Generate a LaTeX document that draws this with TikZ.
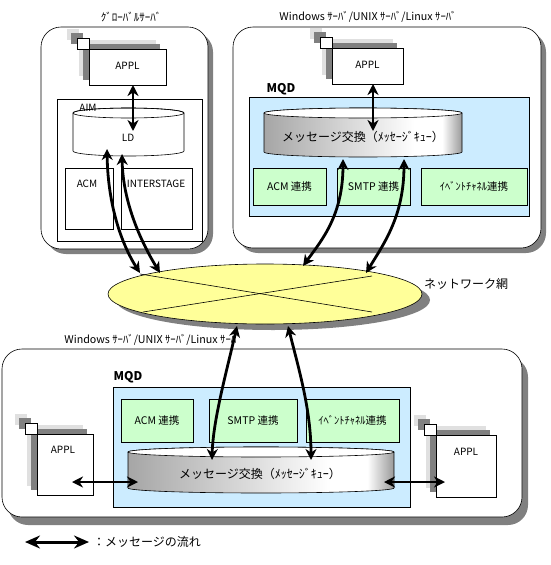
\documentclass[tikz,border=0pt]{standalone}
\usepackage{fontspec}
\setmainfont{Noto Sans CJK JP}
\usetikzlibrary{arrows.meta}
\definecolor{shadowgray}{HTML}{808080}
\definecolor{iconlight}{HTML}{E0E0E0}
\definecolor{icondark}{HTML}{808080}
\definecolor{mqdblue}{HTML}{CCECFF}
\definecolor{linkgreen}{HTML}{CCFFCC}
\definecolor{netyellow}{HTML}{FFFF99}
\pgfdeclarehorizontalshading{cylshade}{100bp}{color(0bp)=(black!35); color(25bp)=(black!35); color(63bp)=(white); color(70bp)=(white); color(75bp)=(black!40); color(100bp)=(black!40)}
\newcommand\appicon[5]{%
  \fill[iconlight] (#2-10,#3-9) rectangle (#4-10,#5-9);
  \fill[iconlight] (#2-22,#3-20) rectangle (#2-10,#3-9);
  \fill[icondark] (#2-6,#3-5) rectangle (#4-6,#5-5);
  \fill[icondark] (#2-18,#3-16) rectangle (#2-6,#3-5);
  \draw[thinline, fill=white] (#2,#3) rectangle (#4,#5);
  \draw[thinline, fill=white] (#2-12,#3-11) rectangle (#2,#3);
}
\newcommand\cylpath[5]{% x1 y1(top) x2 y2(bottom) ry
  (#1,#2+#5) -- (#1,#4-#5) arc[start angle=180, end angle=0, x radius={(#3-#1)/2}, y radius=#5] -- (#3,#2+#5) arc[start angle=0, end angle=-180, x radius={(#3-#1)/2}, y radius=#5] -- cycle
}
\begin{document}
\begin{tikzpicture}[x=1pt,y=-1pt,
  thinline/.style={draw=black, line width=0.6pt},
  server/.style={thinline, fill=white, rounded corners=20pt},
  srvshadow/.style={fill=shadowgray, rounded corners=20pt},
  lbl/.style={inner sep=0pt, font=\fontsize{10}{12}\selectfont},
  titlelbl/.style={inner sep=0pt, font=\fontsize{10.7}{12}\selectfont},
  biglbl/.style={inner sep=0pt, font=\fontsize{12}{14}\selectfont},
  mqdlbl/.style={inner sep=0pt, font=\fontsize{12}{14}\selectfont\bfseries},
  linkbox/.style={thinline, fill=linkgreen, inner sep=0pt, font=\fontsize{10.5}{12}\selectfont},
  headtip/.tip={Stealth[length=11pt,width=11pt,inset=3.5pt]},
  legtip/.tip={Stealth[length=15pt,width=13pt,inset=5pt]},
  flow/.style={line width=2.8pt, headtip-headtip},
]
\useasboundingbox (0,0) rectangle (550,565);

% ---------- top-left server ----------
\fill[srvshadow] (46,32) rectangle (213,254);
\draw[server] (41,27) rectangle (208,249);
\node[titlelbl, font=\fontsize{11}{12}\selectfont] (tlTitle) at (131,17) {ｸﾞﾛｰﾊﾞﾙｻｰﾊﾞ};
\appicon{tlappl}{89}{49}{166}{85}
\node[lbl] (tlApplTxt) at (127.5,66) {APPL};
\draw[thinline] (57,99) rectangle (202,241);
\draw[thinline, fill=white] \cylpath{73}{108}{184}{156}{5};
\draw[thinline] (128.5,113) ellipse[x radius=55.5, y radius=5];
\node[lbl] (aim) at (88,108) {AIM};
\node[lbl] (ld) at (128,138) {LD};
\draw[thinline] (65,168) rectangle (113,229);
\node[lbl] (acm) at (87,184) {ACM};
\draw[thinline] (121,168) rectangle (192,229);
\node[lbl] (inter) at (156,184) {INTERSTAGE};

% ---------- top-right server ----------
\fill[srvshadow] (238,32) rectangle (546,253);
\draw[server] (233,27) rectangle (541,248);
\node[titlelbl] (trTitle) at (368,17) {Windows ｻｰﾊﾞ/UNIX ｻｰﾊﾞ/Linux ｻｰﾊﾞ};
\appicon{trappl}{332}{48}{403}{84}
\node[lbl] (trApplTxt) at (367.5,65) {APPL};
\node[mqdlbl] (trMqd) at (281,89) {MQD};
\draw[thinline, fill=mqdblue] (249,97) rectangle (529,216);
\path[shading=cylshade] \cylpath{264}{108}{462}{157}{5};
\draw[thinline] \cylpath{264}{108}{462}{157}{5};
\draw[thinline, fill=white] (363,113) ellipse[x radius=99, y radius=5];
\node[biglbl] (trQueue) at (363,137) {メッセージ交換（ﾒｯｾｰｼﾞｷｭｰ）};
\node[linkbox, minimum width=73pt, minimum height=37pt] (trAcm) at (289.5,186.5) {ACM 連携};
\node[linkbox, minimum width=73pt, minimum height=37pt] (trSmtp) at (373.5,186.5) {SMTP 連携};
\node[linkbox, minimum width=106pt, minimum height=37pt] (trEvent) at (474,186.5) {ｲﾍﾞﾝﾄﾁｬﾈﾙ連携};

% ---------- network ----------
\fill[shadowgray] (273,300) ellipse[x radius=157, y radius=30];
\draw[thinline, fill=netyellow] (265,294) ellipse[x radius=157, y radius=30];
\coordinate (x1) at (140,274);
\coordinate (x2) at (372,312);
\coordinate (x3) at (143,312);
\coordinate (x4) at (372,276);
\draw[thinline] (x1) -- (x2);
\draw[thinline] (x3) -- (x4);
\node[biglbl] (net) at (466,284) {ネットワーク網};

% ---------- bottom server ----------
\fill[srvshadow] (8,357) rectangle (528,525);
\draw[server] (2,349) rectangle (522,517);
\node[titlelbl] (bTitle) at (153,340) {Windows ｻｰﾊﾞ/UNIX ｻｰﾊﾞ/Linux ｻｰﾊﾞ};
\node[mqdlbl] (bMqd) at (128,377) {MQD};
\draw[thinline, fill=mqdblue] (113,387) rectangle (410,507);
\node[linkbox, minimum width=72pt, minimum height=43pt] (bAcm) at (157,420.5) {ACM 連携};
\node[linkbox, minimum width=88pt, minimum height=43pt] (bSmtp) at (253,420.5) {SMTP 連携};
\node[linkbox, minimum width=93pt, minimum height=43pt] (bEvent) at (352.5,420.5) {ｲﾍﾞﾝﾄﾁｬﾈﾙ連携};
\path[shading=cylshade] \cylpath{128}{447}{394}{493}{5};
\draw[thinline] \cylpath{128}{447}{394}{493}{5};
\draw[thinline, fill=white] (261,452) ellipse[x radius=133, y radius=5];
\node[biglbl] (bQueue) at (260,474) {メッセージ交換（ﾒｯｾｰｼﾞｷｭｰ）};
\appicon{blappl}{37}{434}{93}{495}
\node[lbl] (blApplTxt) at (63,450) {APPL};
\appicon{brappl}{436}{435}{496}{497}
\node[lbl] (brApplTxt) at (466,452) {APPL};

% ---------- message flows ----------
\coordinate (tlA) at (133,85);
\coordinate (tlB) at (133,131);
\draw[flow] (tlA) -- (tlB);
\coordinate (trA) at (373,84);
\coordinate (trB) at (373,131);
\draw[flow] (trA) -- (trB);

\coordinate (c1s) at (107,149);
\coordinate (c1e) at (140,273);
\draw[flow] (c1s) .. controls (108,210) and (124,248) .. (c1e);
\coordinate (c2s) at (122,154);
\coordinate (c2e) at (160,273);
\draw[flow] (c2s) .. controls (123,205) and (143,245) .. (c2e);
\coordinate (c3s) at (343,159);
\coordinate (c3e) at (303,266);
\draw[flow] (c3s) .. controls (343,215) and (322,240) .. (c3e);
\coordinate (c4s) at (404,159);
\coordinate (c4e) at (366,273);
\draw[flow] (c4s) .. controls (404,215) and (385,242) .. (c4e);
\coordinate (c5s) at (237,326);
\coordinate (c5e) at (212,460);
\draw[flow] (c5s) .. controls (227,370) and (213,420) .. (c5e);
\coordinate (c6s) at (288,326);
\coordinate (c6e) at (311,460);
\draw[flow] (c6s) .. controls (299,370) and (311,410) .. (c6e);

\coordinate (blA) at (72,482);
\coordinate (blB) at (138,482);
\draw[flow] (blA) -- (blB);
\coordinate (brA) at (384,482);
\coordinate (brB) at (445,482);
\draw[flow] (brA) -- (brB);

% ---------- legend ----------
\coordinate (lgA) at (25,542);
\coordinate (lgB) at (89,542);
\draw[line width=3pt, legtip-legtip] (lgA) -- (lgB);
\node[biglbl, anchor=west] (lgTxt) at (93,542) {：メッセージの流れ};
\end{tikzpicture}
\end{document}
